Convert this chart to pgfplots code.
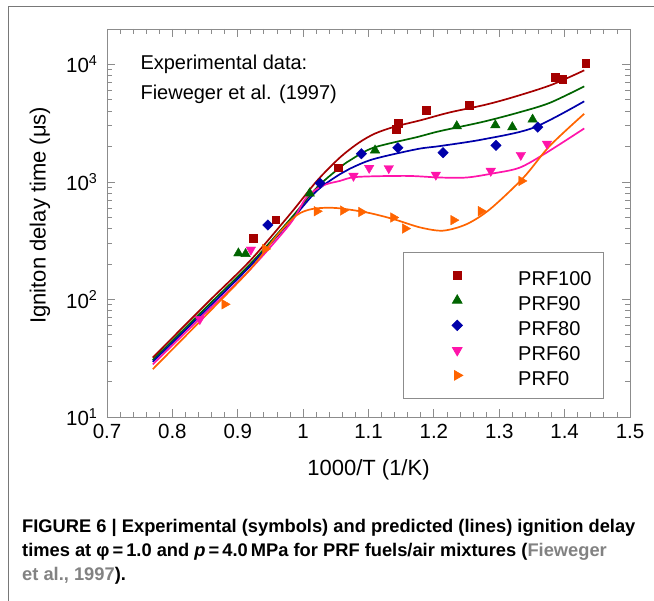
\documentclass[border=0pt]{standalone}
\usepackage{pgfplots}
\pgfplotsset{compat=1.18}
\usepackage{fontspec}
\setmainfont{Liberation Sans}
\definecolor{cA}{RGB}{165,0,0}
\definecolor{cB}{RGB}{0,100,0}
\definecolor{cC}{RGB}{0,0,170}
\definecolor{cD}{RGB}{255,20,170}
\definecolor{cE}{RGB}{255,100,0}
\definecolor{frame}{RGB}{120,120,120}
\definecolor{axgray}{RGB}{140,140,140}
\definecolor{citegray}{RGB}{130,130,130}
\begin{document}
\begin{tikzpicture}
\useasboundingbox (0,0) rectangle (654pt,-601pt);
\draw[frame, line width=1pt] (8pt,-601pt) -- (8pt,-7pt) -- (654pt,-7pt);
\begin{axis}[
  at={(107pt,-417pt)}, anchor=south west, scale only axis,
  width=523pt, height=388pt,
  xmin=0.7, xmax=1.5, ymode=log, ymin=10, ymax=20000,
  xtick={0.7,0.8,0.9,1.0,1.1,1.2,1.3,1.4,1.5},
  xticklabels={0.7,0.8,0.9,1,1.1,1.2,1.3,1.4,1.5},
  minor x tick num=4,
  ytick={10,100,1000,10000},
  yticklabels={10\textsuperscript{1},10\textsuperscript{2},10\textsuperscript{3},10\textsuperscript{4}},
  minor ytick={20,30,40,50,60,70,80,90,200,300,400,500,600,700,800,900,2000,3000,4000,5000,6000,7000,8000,9000},
  xtick pos=both, ytick pos=both, tick align=inside,
  major tick length=8pt, minor tick length=5pt,
  axis line style={axgray, line width=0.9pt},
  tick style={axgray, line width=0.8pt},
  tick label style={font=\fontsize{20.5}{24}\selectfont, black},
  xticklabel style={yshift=-4pt},
  yticklabel style={xshift=-6pt},
  xlabel={1000/T (1/K)},
  ylabel={Igniton delay time (μs)},
  label style={font=\fontsize{22}{26}\selectfont},
  xlabel style={at={(axis description cs:0.5,-0.137)}, anchor=center},
  ylabel style={at={(axis description cs:-0.128,0.52)}, anchor=center},
  legend style={at={(axis description cs:0.9503,0.4253)}, anchor=north east,
    draw=axgray, line width=0.8pt, font=\fontsize{20}{24}\selectfont,
    inner xsep=10pt, inner ysep=11pt, row sep=1pt,
    nodes={inner sep=2pt, text height=20pt, text depth=0pt},
    /tikz/every odd column/.append style={column sep=37pt}},
  legend cell align=left,
  legend image code/.code={\path[draw=none,fill=none] (0pt,-1pt) rectangle (66pt,1pt); \draw[mark repeat=2,mark phase=2,#1] plot coordinates {(24pt,0pt) (44pt,0pt) (64pt,0pt)};},
]
% predicted lines
\addplot[cA, line width=1.7pt, smooth, forget plot] coordinates {
(0.77,32) (0.852,92) (0.919,214) (0.98,532) (1.021,1019) (1.056,1607) (1.085,2150) (1.11,2580) (1.14,2950) (1.18,3350) (1.224,3900) (1.28,4550) (1.326,5355) (1.38,6700) (1.43,8900)};
\addplot[cB, line width=1.7pt, smooth, forget plot] coordinates {
(0.77,30.5) (0.852,86) (0.919,200) (0.98,480) (1.021,895) (1.056,1321) (1.072,1530) (1.107,1950) (1.174,2405) (1.209,2704) (1.275,3245) (1.33,3900) (1.377,4700) (1.43,6500)};
\addplot[cC, line width=1.7pt, smooth, forget plot] coordinates {
(0.77,29.5) (0.852,82) (0.919,192) (0.98,460) (1.021,840) (1.056,1161) (1.072,1300) (1.107,1560) (1.174,1900) (1.209,2018) (1.275,2300) (1.352,2886) (1.43,4850)};
\addplot[cD, line width=1.7pt, smooth, forget plot] coordinates {
(0.77,28) (0.852,78) (0.919,180) (0.98,440) (1.005,736) (1.03,930) (1.056,1019) (1.082,1102) (1.158,1125) (1.209,1090) (1.25,1090) (1.29,1180) (1.331,1321) (1.372,1770) (1.43,2850)};
\addplot[cE, line width=1.7pt, smooth, forget plot] coordinates {
(0.77,25.5) (0.852,74) (0.919,180) (0.96,350) (0.99,520) (1.015,590) (1.05,600) (1.097,550) (1.138,483) (1.179,410) (1.214,385) (1.25,437) (1.286,587) (1.337,1087) (1.377,2018) (1.43,3800)};
% experimental data
\addplot[only marks, mark=square*, mark size=3.8pt, color=cA] coordinates {
(0.924,333) (0.958,478) (1.054,1321) (1.142,2800) (1.145,3160) (1.188,4075) (1.254,4470) (1.386,7800) (1.397,7500) (1.432,10190)};
\addlegendentry{PRF100}
\addplot[only marks, mark=triangle*, mark size=5.5pt, color=cB] coordinates {
(0.901,247) (0.912,244) (1.010,800) (1.110,1856) (1.235,2983) (1.294,3040) (1.320,2926) (1.351,3397)};
\addlegendentry{PRF90}
\addplot[only marks, mark=square*, mark size=3.7pt, mark options={rotate=45}, color=cC] coordinates {
(0.946,430) (1.026,975) (1.089,1737) (1.145,1952) (1.214,1772) (1.295,2046) (1.359,2926)};
\addlegendentry{PRF80}
\addplot[only marks, mark=triangle*, mark size=5.5pt, mark options={rotate=180}, color=cD] coordinates {
(0.842,68) (0.920,265) (1.077,1125) (1.101,1314) (1.131,1306) (1.203,1150) (1.287,1240) (1.333,1693) (1.373,2112)};
\addlegendentry{PRF60}
\addplot[only marks, mark=triangle*, mark size=5.5pt, mark options={rotate=-90}, color=cE] coordinates {
(0.880,91) (0.942,269) (1.021,563) (1.061,571) (1.089,555) (1.138,498) (1.156,401) (1.230,473) (1.272,564) (1.334,1019)};
\addlegendentry{PRF0}
\end{axis}
\node[anchor=base west, font=\fontsize{20}{24}\selectfont] at (137pt,-70pt) {Experimental data:};
\node[anchor=base west, font=\fontsize{20}{24}\selectfont] at (137pt,-100pt) {Fieweger et al. (1997)};
\node[anchor=base west, inner sep=0pt, font=\bfseries\fontsize{18.3}{22}\selectfont] at (22pt,-533pt) {FIGURE 6 | Experimental (symbols) and predicted (lines) ignition delay};
\node[anchor=base west, inner sep=0pt, font=\bfseries\fontsize{18.3}{22}\selectfont] at (22pt,-557pt) {times at φ\,=\,1.0 and \textit{p}\,=\,4.0\,MPa for PRF fuels/air mixtures (\textcolor{citegray}{Fieweger}};
\node[anchor=base west, inner sep=0pt, font=\bfseries\fontsize{18.3}{22}\selectfont] at (22pt,-581pt) {\textcolor{citegray}{et al., 1997}).};
\end{tikzpicture}
\end{document}
